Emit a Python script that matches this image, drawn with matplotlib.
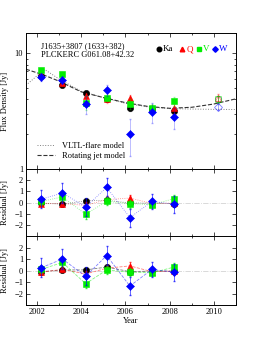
import numpy as np
import matplotlib
matplotlib.use("Agg")
import matplotlib.pyplot as plt
from matplotlib.ticker import MultipleLocator, FixedLocator, NullFormatter

plt.rcParams['font.family'] = ['Liberation Serif', 'DejaVu Serif']
plt.rcParams['font.size'] = 6

# =========================
# DATA
# =========================

years = [2002.2, 2003.15, 2004.2, 2005.15, 2006.2, 2007.2, 2008.2]
bands = ['Ka', 'Q', 'V', 'W']
colors = ['black', 'red', '#00ee00', 'blue']
markers = ['o', '^', 's', 'D']

flux_ka = [6.4, 5.35, 4.55, 4.05, 3.35, 3.3, 3.15]
flux_q = [6.6, 5.5, 4.25, 4.0, 4.1, 3.35, 3.35]
flux_v = [7.2, 6.6, 3.75, 4.15, 3.65, 3.35, 3.85]
flux_w = [6.3, 5.85, 3.65, 4.8, 2.0, 3.1, 2.8]
err_ka = [0.2, 0.15, 0.15, 0.15, 0.15, 0.15, 0.15]
err_q = [0.3, 0.25, 0.25, 0.25, 0.3, 0.25, 0.3]
err_v = [0.3, 0.3, 0.5, 0.3, 0.35, 0.3, 0.35]
err_w = [0.5, 0.45, 0.65, 0.5, 0.7, 0.6, 0.6]

# points excluded from the fit (open symbols)
year_late = 2010.2
late_flux = [4.0, 4.15, 4.0, 3.45]
late_err = [0.25, 0.3, 0.25, 0.2]

# model curves
model_years = [2001.5, 2002.0, 2002.35, 2003.0, 2004.0, 2005.0, 2006.0,
               2007.0, 2008.0, 2009.0, 2010.0, 2011.0]
vltl_flux = [5.3, 6.4, 7.25, 6.0, 4.7, 4.15, 3.7, 3.45, 3.33, 3.3, 3.28, 3.27]
jet_flux = [7.3, 6.8, 6.45, 5.75, 4.65, 4.15, 3.75, 3.48, 3.35, 3.42, 3.65, 4.05]

# residuals, VLTL-flare model
res1_ka = [-0.05, -0.15, 0.15, 0.2, -0.05, -0.05, -0.1]
res1_q = [-0.1, -0.1, -0.25, 0.25, 0.4, -0.1, -0.05]
res1_v = [0.1, 0.5, -1.05, 0.1, -0.1, -0.2, 0.35]
res1_w = [0.3, 0.85, -0.4, 1.35, -1.35, 0.1, -0.15]

# residuals, rotating jet model
res2_ka = [-0.1, 0.05, 0.05, 0.3, -0.1, -0.05, -0.05]
res2_q = [-0.15, 0.1, -0.3, 0.2, 0.4, -0.1, -0.05]
res2_v = [0.1, 0.7, -1.15, 0.05, -0.15, -0.2, 0.3]
res2_w = [0.25, 1.0, -0.5, 1.3, -1.35, 0.1, -0.15]

res_err_ka = [0.2, 0.2, 0.15, 0.2, 0.2, 0.15, 0.2]
res_err_q = [0.25, 0.25, 0.3, 0.3, 0.3, 0.25, 0.3]
res_err_v = [0.3, 0.35, 0.4, 0.35, 0.35, 0.3, 0.35]
res_err_w = [0.8, 0.9, 0.8, 0.8, 0.8, 0.65, 0.75]

fluxes = [flux_ka, flux_q, flux_v, flux_w]
errs = [err_ka, err_q, err_v, err_w]
res1 = [res1_ka, res1_q, res1_v, res1_w]
res2 = [res2_ka, res2_q, res2_v, res2_w]
res_errs = [res_err_ka, res_err_q, res_err_v, res_err_w]

# =========================
# FIGURE
# =========================

fig = plt.figure(figsize=(2.62, 3.39), dpi=100)
ax1 = fig.add_axes([0.099, 0.5015, 0.802, 0.401])
ax2 = fig.add_axes([0.099, 0.3038, 0.802, 0.1977], sharex=ax1)
ax3 = fig.add_axes([0.099, 0.1003, 0.802, 0.2035], sharex=ax1)


def msize(m):
    return 4.0 if m == 'D' else 4.5


# top panel: flux density
ax1.plot(model_years, vltl_flux, ls=':', color='gray', lw=0.7,
         label='VLTL-flare model')
ax1.plot(model_years, jet_flux, ls='--', color='#333333', lw=0.8,
         label='Rotating jet model')

for f, e, c, m in zip(fluxes, errs, colors, markers):
    ax1.errorbar(years, f, yerr=e, fmt='none', ecolor=c, alpha=0.3,
                 elinewidth=0.6, capsize=1)
    ax1.plot(years, f, ls='none', marker=m, color=c, ms=msize(m),
             mec=c, mew=0.4)

for lf, le, c, m in zip(late_flux, late_err, colors, markers):
    ax1.errorbar([year_late], [lf], yerr=[le], fmt='none', ecolor=c,
                 alpha=0.4, elinewidth=0.6, capsize=1)
    ax1.plot([year_late], [lf], ls='none', marker=m, mfc='none', mec=c,
             alpha=0.5, ms=msize(m), mew=0.6)

ax1.set_yscale('log')
ax1.set_ylim(1, 15)
ax1.set_xlim(2001.5, 2011.0)
ax1.yaxis.set_major_locator(FixedLocator([1, 10]))
ax1.set_yticklabels(['1', '10'])
ax1.yaxis.set_minor_formatter(NullFormatter())
ax1.set_ylabel('Flux Density [Jy]')

ax1.text(0.07, 0.93, 'J1635+3807 (1633+382)\nPLCKERC G061.08+42.32',
         transform=ax1.transAxes, va='top', ha='left', fontsize=6,
         linespacing=1.0)

# band legend as coloured text
band_x = [0.635, 0.745, 0.825, 0.9]
for bx, b, c, m in zip(band_x, bands, colors, markers):
    ax1.plot([bx], [0.88], transform=ax1.transAxes, marker=m, color=c,
             ms=3.3 if m != 'D' else 2.8, ls='none', clip_on=False)
    ax1.text(bx + 0.018, 0.88, b, color=c, transform=ax1.transAxes,
             va='center', ha='left', fontsize=6.5)

ax1.legend(loc='lower left', bbox_to_anchor=(0.02, 0.02), frameon=False,
           fontsize=6, handlelength=2.2, labelspacing=0.2, borderpad=0.3)

# residual panels
for ax, res, ls in [(ax2, res1, ':'), (ax3, res2, '--')]:
    ax.axhline(0, color='lightgray', ls='-.', lw=0.6)
    for r, e, c, m in zip(res, res_errs, colors, markers):
        ax.plot(years, r, ls=ls, color=c, alpha=0.5, lw=0.6)
        ax.errorbar(years, r, yerr=e, fmt='none', ecolor=c, alpha=0.7,
                    elinewidth=0.6, capsize=1)
        ax.plot(years, r, ls='none', marker=m, color=c,
                ms=msize(m), mew=0.4)
    ax.set_ylim(-3, 3)
    ax.set_yticks([-2, -1, 0, 1, 2])
    ax.set_ylabel('Residual [Jy]')

ax3.set_xlabel('Year', labelpad=1)
ax1.xaxis.set_major_locator(MultipleLocator(2))
ax1.xaxis.set_minor_locator(MultipleLocator(1))

for ax in (ax1, ax2, ax3):
    ax.tick_params(which='both', direction='in', top=True, right=True,
                   labelsize=6, width=0.5, pad=2)
    ax.tick_params(which='major', length=3)
    ax.tick_params(which='minor', length=1.5)
    for s in ax.spines.values():
        s.set_linewidth(0.7)

plt.setp(ax1.get_xticklabels(), visible=False)
plt.setp(ax2.get_xticklabels(), visible=False)

fig.savefig('out.png', dpi=100)
